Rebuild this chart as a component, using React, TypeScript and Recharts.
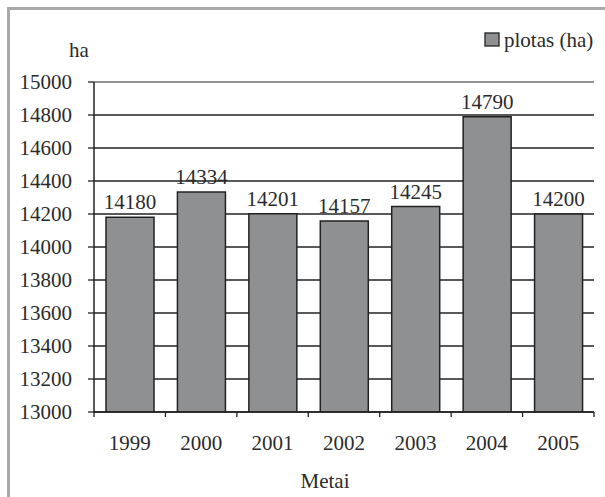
import { BarChart, Bar, XAxis, YAxis, CartesianGrid, LabelList, ReferenceLine } from "recharts";

const years = ["1999", "2000", "2001", "2002", "2003", "2004", "2005"];
const plotas = [14180, 14334, 14201, 14157, 14245, 14790, 14200];
const yTicks = [13000, 13200, 13400, 13600, 13800, 14000, 14200, 14400, 14600, 14800, 15000];

const data = years.map((year, i) => ({ year, plotas: plotas[i] }));

const FONT = '"Liberation Serif", "Times New Roman", serif';
const TEXT = "#2b2b2b";
const LINE = "#222";
const BAR_FILL = "#8f9092";
const LIGHT = "#a9a9a9";

// category tick: label in the middle, tick marks on the band edges
function YearTick(props: any) {
  const { x, y, payload, index, visibleTicksCount } = props;
  const half = payload && typeof payload.offset === "number" && payload.offset > 0 ? payload.offset : 500 / 7 / 2;
  const last = index === visibleTicksCount - 1;
  return (
    <g>
      <line x1={x - half} x2={x - half} y1={y} y2={y + 5} stroke={LINE} strokeWidth={1.3} />
      {last && <line x1={x + half} x2={x + half} y1={y} y2={y + 5} stroke={LINE} strokeWidth={1.3} />}
      <text x={x} y={y + 38} textAnchor="middle" fontSize={21} fontFamily={FONT} fill={TEXT}>
        {payload.value}
      </text>
    </g>
  );
}

function ValueTick(props: any) {
  const { x, y, payload } = props;
  return (
    <text x={x} y={y + 7} textAnchor="end" fontSize={21} fontFamily={FONT} fill={TEXT}>
      {payload.value}
    </text>
  );
}

function TopLabel(props: any) {
  const { x, y, width, value } = props;
  return (
    <text x={x + width / 2} y={y - 8} textAnchor="middle" fontSize={21} fontFamily={FONT} fill={TEXT}>
      {value}
    </text>
  );
}

export default function App() {
  return (
    <div
      style={{
        position: "absolute",
        left: 0,
        top: 0,
        width: 605,
        height: 497,
        overflow: "hidden",
        background: "#fff",
        fontFamily: FONT,
      }}
    >
      <div
        style={{
          position: "absolute",
          left: 7,
          top: 7,
          width: 700,
          height: 600,
          borderLeft: `3px solid ${LIGHT}`,
          borderTop: `3px solid ${LIGHT}`,
        }}
      />
      <div style={{ position: "absolute", left: 0, top: 0 }}>
        <BarChart
          width={605}
          height={497}
          data={data}
          margin={{ top: 82, right: 11, left: 0, bottom: 0 }}
          style={{ fontFamily: FONT }}
        >
          <CartesianGrid vertical={false} stroke={LINE} strokeWidth={1.3} />
          <XAxis
            dataKey="year"
            height={85}
            tickSize={0}
            tickMargin={0}
            tickLine={false}
            axisLine={{ stroke: LINE, strokeWidth: 1.5 }}
            tick={<YearTick />}
            interval={0}
          />
          <YAxis
            width={94}
            domain={[13000, 15000]}
            ticks={yTicks}
            interval={0}
            tickSize={6}
            tickMargin={16}
            tickLine={{ stroke: LINE, strokeWidth: 1.3 }}
            axisLine={{ stroke: LINE, strokeWidth: 1.5 }}
            tick={<ValueTick />}
            allowDataOverflow
          />
          <YAxis
            yAxisId="edge"
            orientation="right"
            width={0}
            domain={[13000, 15000]}
            tick={false}
            tickLine={false}
            axisLine={{ stroke: LIGHT, strokeWidth: 1.3 }}
          />
          <ReferenceLine y={15000} stroke={LIGHT} strokeWidth={1.5} />
          <Bar
            dataKey="plotas"
            barSize={48}
            fill={BAR_FILL}
            stroke={LINE}
            strokeWidth={1.5}
            isAnimationActive={false}
          >
            <LabelList dataKey="plotas" content={<TopLabel />} />
          </Bar>
        </BarChart>
      </div>
      <svg
        width={605}
        height={497}
        style={{ position: "absolute", left: 0, top: 0, pointerEvents: "none" }}
      >
        <text x={69} y={57} fontSize={21} fontFamily={FONT} fill={TEXT}>
          ha
        </text>
        <rect x={485} y={33} width={14} height={13} fill={BAR_FILL} stroke={LINE} strokeWidth={1.3} />
        <text x={504} y={47} fontSize={21} fontFamily={FONT} fill={TEXT}>
          plotas (ha)
        </text>
        <text x={325} y={488} textAnchor="middle" fontSize={21} fontFamily={FONT} fill={TEXT}>
          Metai
        </text>
      </svg>
    </div>
  );
}
